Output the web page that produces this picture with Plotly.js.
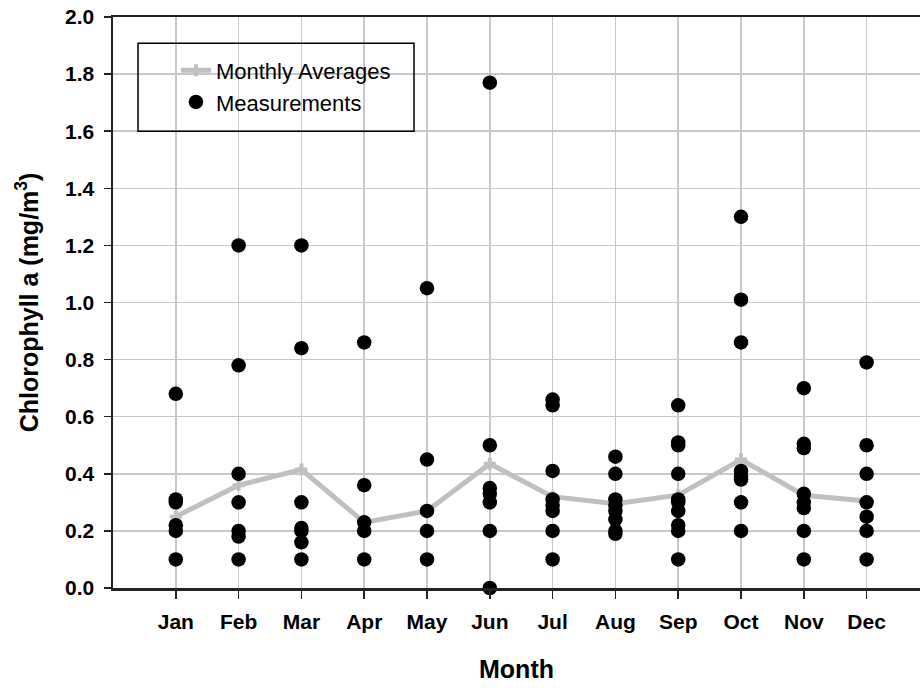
<!DOCTYPE html>
<html>
<head>
<meta charset="utf-8">
<script src="https://cdn.plot.ly/plotly-3.0.1.min.js"></script>
<style>
  html, body { margin: 0; padding: 0; background: #ffffff; }
  #chart { width: 920px; height: 688px; }
</style>
</head>
<body>
<div id="chart"></div>
<script>
// Month labels, positioned at 1..12 on a numeric x axis
const months = ['Jan', 'Feb', 'Mar', 'Apr', 'May', 'Jun', 'Jul', 'Aug', 'Sep', 'Oct', 'Nov', 'Dec'];

// Monthly average chlorophyll a (mg/m3)
const monthlyAverages = [0.25, 0.36, 0.415, 0.23, 0.27, 0.435, 0.32, 0.295, 0.325, 0.45, 0.325, 0.305];

// Individual measurements for each month (mg/m3)
const janValues = [0.68, 0.31, 0.30, 0.22, 0.20, 0.10];
const febValues = [1.20, 0.78, 0.40, 0.30, 0.20, 0.18, 0.10];
const marValues = [1.20, 0.84, 0.30, 0.21, 0.20, 0.16, 0.10];
const aprValues = [0.86, 0.36, 0.23, 0.20, 0.10];
const mayValues = [1.05, 0.45, 0.27, 0.20, 0.10];
const junValues = [1.77, 0.50, 0.35, 0.33, 0.30, 0.20, 0.00];
const julValues = [0.66, 0.64, 0.41, 0.31, 0.29, 0.27, 0.20, 0.10];
const augValues = [0.46, 0.40, 0.31, 0.29, 0.27, 0.24, 0.20, 0.19];
const sepValues = [0.64, 0.51, 0.50, 0.40, 0.31, 0.30, 0.27, 0.22, 0.20, 0.10];
const octValues = [1.30, 1.01, 0.86, 0.41, 0.39, 0.38, 0.30, 0.20];
const novValues = [0.70, 0.505, 0.49, 0.33, 0.30, 0.28, 0.20, 0.10];
const decValues = [0.79, 0.50, 0.40, 0.30, 0.25, 0.20, 0.10];

const measurementsByMonth = [janValues, febValues, marValues, aprValues, mayValues, junValues,
                             julValues, augValues, sepValues, octValues, novValues, decValues];

const monthIndex = months.map((_, i) => i + 1);

// Flatten measurements into x/y pairs
const measX = [];
const measY = [];
measurementsByMonth.forEach((vals, i) => {
  vals.forEach(v => { measX.push(i + 1); measY.push(v); });
});

const FONT = '"Liberation Sans", Arial, Helvetica, sans-serif';

const averagesTrace = {
  type: 'scatter',
  mode: 'lines+markers',
  name: 'Monthly Averages',
  x: monthIndex,
  y: monthlyAverages,
  line: { color: '#c0c0c0', width: 5 },
  marker: { symbol: 'cross', size: 10, color: '#c0c0c0' },
  cliponaxis: false
};

const measurementsTrace = {
  type: 'scatter',
  mode: 'markers',
  name: 'Measurements',
  x: measX,
  y: measY,
  marker: { symbol: 'circle', size: 14.5, color: '#000000' },
  cliponaxis: false
};

const layout = {
  width: 920,
  height: 688,
  margin: { l: 113, r: 0, t: 17, b: 100 },
  paper_bgcolor: '#ffffff',
  plot_bgcolor: '#ffffff',
  font: { family: FONT, color: '#000000' },
  showlegend: true,
  legend: {
    x: 0.078, y: 0.943, xanchor: 'left', yanchor: 'top',
    bgcolor: 'rgba(0,0,0,0)',
    borderwidth: 0,
    font: { family: FONT, size: 22, color: '#000000' },
    tracegroupgap: 0
  },
  shapes: [{
    type: 'rect', xref: 'paper', yref: 'paper',
    x0: 0.031, x1: 0.373, y0: 0.800, y1: 0.954,
    line: { color: '#000000', width: 1.5 },
    fillcolor: 'rgba(0,0,0,0)',
    layer: 'above'
  }],
  xaxis: {
    range: [0, 12.85],
    tickmode: 'array',
    tickvals: monthIndex,
    ticktext: months,
    showgrid: true,
    gridcolor: '#c8c8c8',
    gridwidth: 1.5,
    zeroline: false,
    showline: true,
    linecolor: '#222222',
    linewidth: 2.5,
    mirror: true,
    ticks: 'outside',
    ticklen: 8,
    tickwidth: 1.5,
    tickcolor: '#222222',
    ticklabelstandoff: 5,
    tickfont: { family: FONT, size: 21, weight: 'bold', color: '#000000' },
    title: {
      text: 'Month',
      font: { family: FONT, size: 25, weight: 'bold', color: '#000000' },
      standoff: 29
    }
  },
  yaxis: {
    range: [0, 2.0],
    dtick: 0.2,
    tick0: 0,
    tickformat: '.1f',
    showgrid: true,
    gridcolor: '#c8c8c8',
    gridwidth: 1.5,
    zeroline: false,
    showline: true,
    linecolor: '#222222',
    linewidth: 2.5,
    ticks: 'outside',
    ticklen: 7,
    tickwidth: 1.5,
    tickcolor: '#222222',
    ticklabelstandoff: 5,
    tickfont: { family: FONT, size: 21, weight: 'bold', color: '#000000' },
    title: {
      text: 'Chlorophyll a (mg/m<sup>3</sup>)',
      font: { family: FONT, size: 25, weight: 'bold', color: '#000000' },
      standoff: 20
    }
  }
};

Plotly.newPlot('chart', [averagesTrace, measurementsTrace], layout, {
  displayModeBar: false,
  staticPlot: true
});
</script>
</body>
</html>
